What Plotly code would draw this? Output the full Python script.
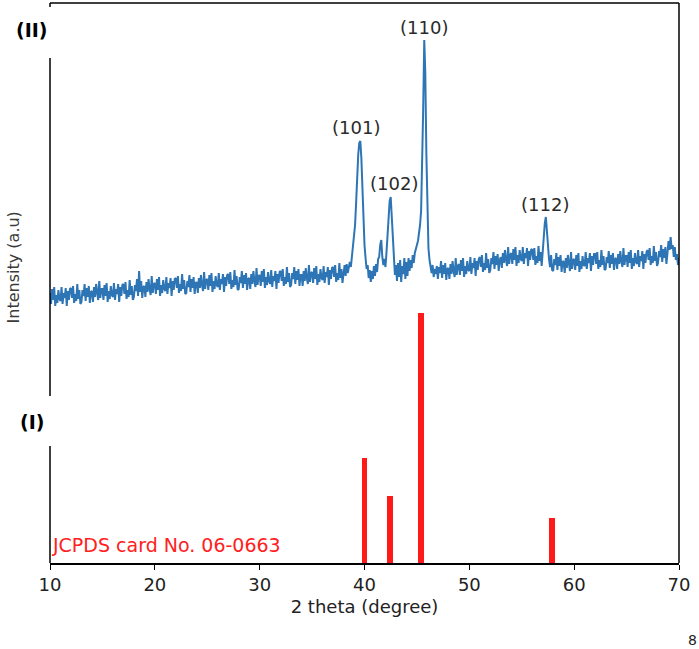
import numpy as np
import plotly.graph_objects as go

# measured XRD pattern, 2theta from 10.0 to 70.0 in 0.1 steps (arbitrary counts)
two_theta = np.round(np.arange(10.0, 70.05, 0.1), 1)
intensity = [
  270, 259, 274, 263, 276, 257, 268, 260, 273, 264,  # 10
  262, 276, 259, 270, 265, 275, 257, 272, 263, 274,  # 11
  275, 265, 277, 260, 269, 262, 279, 264, 273, 259,  # 12
  261, 273, 267, 279, 262, 275, 266, 277, 260, 271,  # 13
  272, 261, 276, 266, 279, 269, 263, 282, 265, 274,  # 14
  274, 263, 278, 267, 280, 261, 272, 264, 277, 268,  # 15
  266, 280, 263, 274, 269, 279, 261, 276, 267, 278,  # 16
  279, 269, 281, 264, 273, 266, 283, 268, 277, 263,  # 17
  266, 278, 272, 284, 267, 292, 271, 282, 265, 276,  # 18
  277, 266, 281, 271, 284, 274, 268, 287, 270, 279,  # 19
  280, 269, 284, 273, 286, 267, 278, 270, 283, 274,  # 20
  272, 286, 269, 280, 275, 285, 267, 282, 273, 284,  # 21
  285, 275, 287, 270, 279, 272, 289, 274, 283, 269,  # 22
  270, 282, 276, 288, 271, 284, 275, 286, 269, 280,  # 23
  281, 270, 285, 275, 288, 278, 272, 291, 274, 283,  # 24
  284, 273, 288, 277, 290, 271, 282, 274, 287, 278,  # 25
  276, 290, 273, 284, 279, 289, 271, 286, 277, 288,  # 26
  289, 279, 291, 274, 283, 276, 293, 278, 287, 273,  # 27
  274, 286, 280, 292, 275, 288, 279, 290, 273, 284,  # 28
  285, 274, 289, 279, 292, 282, 276, 295, 278, 287,  # 29
  288, 277, 292, 281, 294, 275, 286, 278, 291, 282,  # 30
  279, 293, 276, 287, 282, 292, 274, 289, 280, 291,  # 31
  292, 282, 294, 277, 286, 279, 296, 281, 290, 276,  # 32
  278, 290, 284, 296, 279, 292, 283, 294, 277, 288,  # 33
  288, 277, 292, 282, 295, 285, 279, 298, 281, 290,  # 34
  291, 280, 295, 284, 297, 278, 289, 281, 294, 285,  # 35
  283, 297, 280, 291, 286, 296, 278, 293, 284, 295,  # 36
  296, 286, 298, 281, 290, 283, 300, 285, 294, 280,  # 37
  291, 298, 287, 299, 290, 297, 301, 296, 306, 312,  # 38
  322, 338, 360, 388, 408, 420, 422, 405, 372, 340,  # 39
  318, 305, 294, 298, 285, 293, 281, 292, 284, 297,  # 40
  287, 299, 291, 304, 306, 318, 323, 306, 298, 304,  # 41
  296, 311, 333, 345, 362, 366, 345, 318, 300, 288,  # 42
  298, 282, 300, 286, 303, 281, 297, 289, 305, 284,  # 43
  301, 287, 305, 292, 303, 295, 308, 300, 310, 316,  # 44
  318, 322, 330, 338, 352, 395, 455, 523, 490, 410,  # 45
  345, 315, 303, 296, 290, 298, 286, 294, 289, 297,  # 46
  284, 296, 290, 302, 285, 298, 289, 300, 283, 294,  # 47
  295, 284, 299, 289, 302, 292, 286, 305, 288, 297,  # 48
  299, 288, 303, 292, 305, 286, 297, 289, 302, 293,  # 49
  292, 306, 289, 300, 295, 305, 287, 302, 293, 304,  # 50
  306, 296, 308, 291, 300, 293, 310, 295, 304, 290,  # 51
  293, 305, 299, 311, 294, 307, 298, 309, 292, 303,  # 52
  306, 295, 310, 300, 313, 303, 297, 316, 299, 308,  # 53
  310, 299, 314, 303, 316, 297, 308, 300, 313, 304,  # 54
  302, 316, 299, 310, 305, 315, 297, 312, 303, 314,  # 55
  313, 303, 315, 298, 307, 300, 317, 302, 311, 297,  # 56
  314, 325, 340, 346, 335, 318, 304, 296, 308, 293,  # 57
  292, 304, 298, 310, 293, 306, 297, 308, 291, 302,  # 58
  301, 290, 305, 295, 308, 298, 292, 311, 294, 303,  # 59
  304, 293, 308, 297, 310, 291, 302, 294, 307, 298,  # 60
  297, 311, 294, 305, 300, 310, 292, 307, 298, 309,  # 61
  309, 299, 311, 294, 303, 296, 313, 298, 307, 293,  # 62
  294, 306, 300, 312, 295, 308, 299, 310, 293, 304,  # 63
  305, 294, 309, 299, 312, 302, 296, 315, 298, 307,  # 64
  307, 296, 311, 300, 313, 294, 305, 297, 310, 301,  # 65
  299, 313, 296, 307, 302, 312, 294, 309, 300, 311,  # 66
  313, 303, 315, 298, 307, 300, 317, 302, 311, 297,  # 67
  300, 312, 306, 318, 301, 314, 305, 316, 299, 310,  # 68
  322, 313, 326, 314, 318, 306, 316, 303, 309, 298,  # 69
  305,                                               # 70
]

# JCPDS card No. 06-0663 reference lines
jcpds_2theta = [40.0, 42.4, 45.4, 57.9]
jcpds_rel = [42, 27, 100, 18]

peak_labels = ['(101)', '(102)', '(110)', '(112)']
label_x = [39.2, 42.8, 45.72, 57.17]
label_y = [436, 380, 536, 359]

FONT = 'DejaVu Sans'
fig = go.Figure()

fig.add_trace(go.Scatter(
  x = two_theta, y = intensity,
  mode = 'lines',
  line = dict(color = '#2E75B6', width = 2),
  showlegend = False,
))

fig.add_trace(go.Bar(
  x = jcpds_2theta, y = jcpds_rel,
  width = 0.55,
  marker = dict(color = '#FF1A1A', line = dict(width = 0)),
  yaxis = 'y2',
  showlegend = False,
))

for txt, lx, ly in zip(peak_labels, label_x, label_y):
  fig.add_annotation(x = lx, y = ly, text = txt, showarrow = False,
                     font = dict(family = FONT, size = 18, color = '#2a2a2a'))

def paper_note(x, y, text, size, color, **kw):
  fig.add_annotation(x = x, y = y, xref = 'paper', yref = 'paper', text = text,
                     xanchor = 'center', yanchor = 'middle', showarrow = False,
                     font = dict(family = FONT, size = size, color = color), **kw)

fig.add_annotation(x = 0.0, y = 18, xref = 'paper', yref = 'y', xanchor = 'left',
                   text = 'JCPDS card No. 06-0663', showarrow = False,
                   font = dict(family = FONT, size = 19, color = '#FF2020'))
paper_note(-0.029, 0.952, '<b>(II)</b>', 19, 'black')
paper_note(-0.029, 0.252, '<b>(I)</b>', 19, 'black')
paper_note(-0.058, 0.527, 'Intensity (a.u)', 16, '#3a3a3a', textangle = -90)
paper_note(1.021, -0.1375, '8', 14, '#222')

# frame: top and right borders, left axis broken around the panel labels
frame = dict(type = 'line', xref = 'paper', yref = 'paper', line = dict(color = 'black', width = 1.5))
fig.add_shape(x0 = 0, x1 = 1, y0 = 1, y1 = 1, **frame)
fig.add_shape(x0 = 1, x1 = 1, y0 = 0, y1 = 1, **frame)
fig.add_shape(x0 = 0, x1 = 0, y0 = 0.993, y1 = 1, **frame)
fig.add_shape(x0 = 0, x1 = 0, y0 = 0.298, y1 = 0.902, **frame)
fig.add_shape(x0 = 0, x1 = 0, y0 = 0, y1 = 0.209, **frame)

fig.update_layout(
  width = 699, height = 649,
  margin = dict(l = 50, r = 20, t = 3, b = 86),
  plot_bgcolor = 'white', paper_bgcolor = 'white',
  bargap = 0,
  xaxis = dict(
    range = [10, 70], tickvals = list(range(10, 71, 10)),
    ticks = 'outside', ticklen = 5, tickwidth = 1.2, tickcolor = 'black',
    showline = True, linecolor = 'black', linewidth = 1.5,
    showgrid = False, zeroline = False,
    tickfont = dict(family = FONT, size = 18, color = '#222'),
    title = dict(text = '2 theta (degree)', standoff = 6,
                 font = dict(family = FONT, size = 18, color = '#222')),
  ),
  yaxis = dict(range = [0, 560], visible = False, fixedrange = True),
  yaxis2 = dict(range = [0, 224], visible = False, overlaying = 'y'),
)

# NOTE: drop the default 8px body margin so the figure sits at the window origin
fig.write_html('out.html', config = dict(displayModeBar = False),
               post_script = "document.body.style.margin = '0';")
